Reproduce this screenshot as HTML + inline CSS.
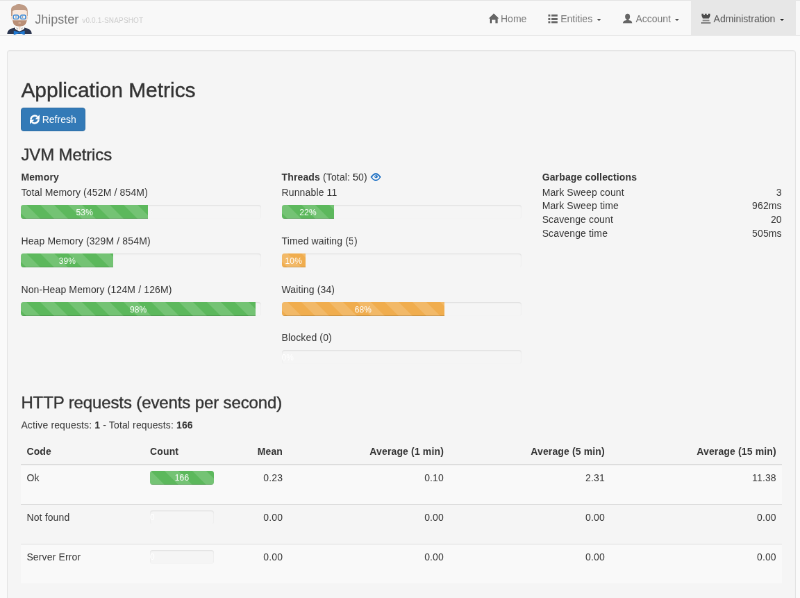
<!DOCTYPE html>
<html><head><meta charset="utf-8"><title>Metrics</title>
<style>
*{box-sizing:border-box}
html,body{margin:0;padding:0;background:#fafafa;overflow:hidden}
body{position:relative;width:800px;height:598px}
#root{transform:scale(0.694444);transform-origin:0 0;will-change:transform;width:1152px;height:862px;position:absolute;left:0;top:0;overflow:hidden;font-family:"Liberation Sans",Helvetica,Arial,sans-serif;font-size:14px;line-height:1.42857143;color:#333;background:#fafafa}
.gi{display:inline-block;width:14px;height:14px;vertical-align:-1px;fill:currentColor}
.well{position:absolute;left:10.4px;top:72px;width:1135.4px;min-height:900px;padding:19px;background:#f5f5f5;border:1px solid #e3e3e3;border-radius:4px;box-shadow:inset 0 1px 1px rgba(0,0,0,.05)}
h2{-webkit-text-stroke:0.45px #333;font-size:30px;font-weight:500;line-height:1.1;margin:20px 0 10px;position:relative;top:0.6px;letter-spacing:-0.03px}
h3{-webkit-text-stroke:0.4px #333;font-size:24px;font-weight:500;line-height:1.1;margin:20px 0 10px;position:relative;top:1.3px;letter-spacing:-0.12px}
p{margin:0 0 10px}
.c4>p{position:relative;top:1.3px}
.c4>.row{position:relative;top:2.3px;line-height:19.7px}
.well{letter-spacing:0.14px}
.btn{font-family:inherit;display:inline-block;padding:6px 12px;font-size:14px;line-height:1.42857143;border:1px solid #2e6da4;border-radius:4px;background:#337ab7;color:#fff;vertical-align:middle;white-space:nowrap}
.row{margin:0 -15px;display:flex}
.row:after{content:"";display:table;clear:both}
.c4{width:33.33333333%;padding:0 15px}
.c9{width:75%;padding:0 15px}
.c3{width:25%;padding:0 15px;text-align:right}
.progress{height:20px;margin-bottom:20px;overflow:hidden;background:#f5f5f5;border-radius:4px;box-shadow:inset 0 1px 2px rgba(0,0,0,.1)}
.bar{float:left;height:100%;font-size:12px;line-height:20px;color:#fff;text-align:center;background-color:#5cb85c;box-shadow:inset 0 -1px 0 rgba(0,0,0,.15);background-image:linear-gradient(45deg,rgba(255,255,255,.15) 25%,transparent 25%,transparent 50%,rgba(255,255,255,.15) 50%,rgba(255,255,255,.15) 75%,transparent 75%,transparent);background-size:40px 40px;background-position:-11.5px 0;white-space:nowrap}
.bar.w{background-color:#f0ad4e}
table{width:100%;max-width:100%;border-collapse:collapse;border-spacing:0;margin-bottom:20px}
th,td{padding:8px;line-height:1.42857143;vertical-align:top;border-top:1px solid #ddd;text-align:left}
thead th{vertical-align:bottom;border-bottom:2px solid #ddd;border-top:0}
tbody tr:nth-child(odd){background:#f9f9f9}
.r{text-align:right}
td .progress{margin-bottom:20px}
td .bar{background-position:-18.7px 0}
.bar span{position:relative;top:0.7px}
#nav{position:absolute;left:0;top:0;width:800px;height:36px;background:#f8f8f8;box-shadow:inset 0 1px 0 #e7e7e7,inset 0 -1px 0 #e9e9e9;z-index:2;font-family:"Liberation Sans",Helvetica,Arial,sans-serif}
#nav .logo{position:absolute;left:4px;top:2px}
#nav .bt{position:absolute;top:12.6px;font-size:12.5px;line-height:14px;color:#777;white-space:nowrap}
#nav .bv{position:absolute;top:16.4px;font-size:6.944px;line-height:9px;color:#ccc;white-space:nowrap}
#nav .act{position:absolute;left:691.3px;top:0;width:104.6px;height:35px;background:#e7e7e7}
#nav .ni{position:absolute;fill:#666}
#nav .nt{position:absolute;top:12px;font-size:9.722px;line-height:13.9px;color:#777;white-space:nowrap}
#nav .nt.a{color:#555}
#nav .cr.a{border-top-color:#2a2a2a}
#nav .cr{position:absolute;top:18.6px;width:0;height:0;border-top:2.8px solid #555;border-left:2.5px solid transparent;border-right:2.5px solid transparent;margin-left:0.2px}
#navt{position:absolute;left:0;top:0;width:1152px;height:52px;transform:scale(0.694444);transform-origin:0 0;will-change:transform;z-index:1}
#navt span{position:absolute;white-space:nowrap}
#navt .bt{top:18.14px;font-size:18px;line-height:20.16px;color:#777}
#navt .bv{top:23.62px;font-size:10px;line-height:12.96px;color:#ccc;letter-spacing:0.17px}
#navt .nt{top:17.28px;font-size:14px;line-height:20px;color:#777}
#navt .nt.a{color:#555}
</style></head><body>
<div id="nav">
  <svg class="logo" width="32" height="34" viewBox="4 2 32 34">
    <path d="M7.2 33.9 C7.4 30.5 9.5 28.8 12.5 28.2 L15.2 27.6 L19.5 31 L24 27.6 L26.6 28.2 C29.6 28.8 31.6 30.5 31.8 33.9 Z" fill="#2d3750"/>
    <path d="M15 26.6 L24.2 26.6 L24.2 29 L19.5 31.6 L15 29 Z" fill="#f7f7f7"/>
    <path d="M16 27.2 L18.4 28.3 L17.2 30 Z M23.2 27.2 L20.8 28.3 L22 30 Z" fill="#c9c9c9"/>
    <path d="M18.4 26.6 L20.8 26.6 L19.6 30.2 Z" fill="#f3d9c8"/>
    <path d="M11 16.3 L11 10.5 C11 7 13 5.5 15.5 5.2 C17 4 19 3.9 20.5 4.2 C23.5 4.6 26 5.8 27.2 8.5 C28 10.5 27.9 13 27.7 16.3 L26.5 16.3 L26.5 11 C24 9.6 16 9.6 12.8 11 L12.6 16.3 Z" fill="#bf9b85"/>
    <path d="M12.8 11 C16 9.6 24 9.6 26.6 11 L26.8 20 L12.6 20 Z" fill="#fae8dc"/>
    <ellipse cx="11.9" cy="17.9" rx="1.1" ry="1.7" fill="#f6dccb"/>
    <ellipse cx="27.1" cy="17.9" rx="1.1" ry="1.7" fill="#f6dccb"/>
    <path d="M12.6 19.4 C13.2 20.4 14.6 20.5 16 20.2 L23.2 20.2 C24.6 20.5 26 20.4 26.7 19.4 C26.8 23.4 24.9 26.2 19.6 26.5 C14.3 26.2 12.5 23.4 12.6 19.4 Z" fill="#b98f77"/>
    <ellipse cx="19.7" cy="22.9" rx="1.5" ry="0.7" fill="#dcb7a2"/>
    <rect x="13.4" y="15.1" width="5" height="3.9" rx="1" fill="#f1f5f9" stroke="#4a8fd4" stroke-width="1.2"/>
    <rect x="20.7" y="15.1" width="5" height="3.9" rx="1" fill="#f1f5f9" stroke="#4a8fd4" stroke-width="1.2"/>
    <path d="M18.6 17 L20.5 17" stroke="#478dd3" stroke-width="1"/>
    <circle cx="16" cy="17.1" r="0.75" fill="#80828a"/>
    <circle cx="22.5" cy="17.1" r="0.75" fill="#80828a"/>
    <path d="M13.8 30.8 L19.3 32.3 L24.7 30.8 L24.7 34.9 L19.3 33.3 L13.8 34.9 Z" fill="#2079d2"/>
    <rect x="18.4" y="31.5" width="1.8" height="1.7" fill="#1865b3"/>
  </svg>
  
  <div class="act"></div>
  <div id="navt"><span class="bt" style="left:50.26px">Jhipster</span><span class="bv" style="left:118.22px">v0.0.1-SNAPSHOT</span><span class="nt" style="left:721.01px">Home</span><span class="nt" style="left:807.26px">Entities</span><span class="nt" style="left:915.41px">Account</span><span class="nt a" style="left:1027.58px">Administration</span></div>
  <svg class="ni" style="left:488px;top:13px" width="12" height="11" viewBox="488 13 12 11"><path d="M493.8 13.4 L499 18.5 L497.7 18.5 L497.7 23.2 L495.4 23.2 L495.4 19.8 L491.9 19.8 L491.9 23.2 L489.9 23.2 L489.9 18.5 L488.6 18.5 Z"/></svg>
  
  <svg class="ni" style="left:548px;top:14px" width="10" height="10" viewBox="548 14 10 10"><path d="M548.3 14.6h2v2h-2zM551.4 14.6h6.2v2h-6.2zM548.3 18h2v2h-2zM551.4 18h6.2v2h-6.2zM548.3 21.3h2v2h-2zM551.4 21.3h6.2v2h-6.2z"/></svg>
  <b class="cr" style="left:596.9px"></b>
  <svg class="ni" style="left:622px;top:13px" width="11" height="11" viewBox="622 13 11 11"><path d="M627.6 13.7 C629.1 13.7 630.1 14.9 630.1 16.6 C630.1 18.1 629.4 19.2 628.6 19.6 L628.6 20 C630.8 20.4 632.1 21.3 632.3 23.2 L622.9 23.2 C623.1 21.3 624.4 20.4 626.6 20 L626.6 19.6 C625.8 19.2 625.1 18.1 625.1 16.6 C625.1 14.9 626.1 13.7 627.6 13.7 Z"/></svg>
  <b class="cr" style="left:675px"></b>
  <svg class="ni" style="left:700px;top:13px" width="12" height="11" viewBox="700 13 12 11"><path fill="#4d4d4d" d="M701.6 13.8 h1.9 v1.3 h1.4 v-1.3 h1.8 v1.3 h1.4 v-1.3 h2.1 v2.3 l-1.3 2.4 h-6 l-1.3 -2.4 z"/><path fill="#8a8a8a" d="M702.6 19.7 h6.8 v1.5 h-6.8 z M701.1 22.1 h9.5 v1.7 h-9.5 z"/></svg>
  <b class="cr a" style="left:780.1px"></b>
</div>

<div id="root">
<div class="well">
  <h2>Application Metrics</h2>
  <p><button class="btn" type="button"><svg class="gi" style="width:14px;height:14px;vertical-align:-1.5px;margin-left:-0.6px" viewBox="0 0 14 14"><path d="M1.5 7.3 A5.5 5.5 0 0 1 10.9 3.2" fill="none" stroke="#fff" stroke-width="2.5"/><path d="M14 0.2 L14 6.6 L7.6 6.6 Z" fill="#fff"/><path d="M12.5 6.7 A5.5 5.5 0 0 1 3.1 10.8" fill="none" stroke="#fff" stroke-width="2.5"/><path d="M0 13.8 L0 7.4 L6.4 7.4 Z" fill="#fff"/></svg>&nbsp;<span>Refresh</span></button></p>

  <h3>JVM Metrics</h3>
  <div class="row">
    <div class="c4">
      <b>Memory</b>
      <p>Total Memory (452M / 854M)</p>
      <div class="progress"><div class="bar" style="width:52.93%"><span>53%</span></div></div>
      <p>Heap Memory (329M / 854M)</p>
      <div class="progress"><div class="bar" style="width:38.52%"><span>39%</span></div></div>
      <p>Non-Heap Memory (124M / 126M)</p>
      <div class="progress"><div class="bar" style="width:97.8%"><span>98%</span></div></div>
    </div>
    <div class="c4">
      <b>Threads</b> (Total: 50) 
      <p>Runnable 11</p>
      <div class="progress"><div class="bar" style="width:22%"><span>22%</span></div></div>
      <p>Timed waiting (5)</p>
      <div class="progress"><div class="bar w" style="width:10%"><span>10%</span></div></div>
      <p>Waiting (34)</p>
      <div class="progress" style="margin-bottom:19px"><div class="bar w" style="width:68%"><span>68%</span></div></div>
      <p>Blocked (0)</p>
      <div class="progress" style="margin-bottom:21px"><div class="bar" style="width:0%"><span>0%</span></div></div>
    </div>
    <div class="c4">
      <b>Garbage collections</b>
      <div class="row"><div class="c9">Mark Sweep count</div><div class="c3">3</div></div>
      <div class="row"><div class="c9">Mark Sweep time</div><div class="c3">962ms</div></div>
      <div class="row"><div class="c9">Scavenge count</div><div class="c3">20</div></div>
      <div class="row"><div class="c9">Scavenge time</div><div class="c3">505ms</div></div>
    </div>
  </div>

  <h3>HTTP requests (events per second)</h3>
  <p class="pa">Active requests: <b>1</b> - Total requests: <b>166</b></p>
  <table>
    <thead><tr><th>Code</th><th>Count</th><th class="r">Mean</th><th class="r">Average (1 min)</th><th class="r">Average (5 min)</th><th class="r">Average (15 min)</th></tr></thead>
    <tbody>
      <tr><td>Ok</td><td><div class="progress"><div class="bar" style="width:100%"><span>166</span></div></div></td><td class="r">0.23</td><td class="r">0.10</td><td class="r">2.31</td><td class="r">11.38</td></tr>
      <tr><td>Not found</td><td><div class="progress"><div class="bar" style="width:0%"><span>0</span></div></div></td><td class="r">0.00</td><td class="r">0.00</td><td class="r">0.00</td><td class="r">0.00</td></tr>
      <tr><td>Server Error</td><td><div class="progress"><div class="bar" style="width:0%"><span>0</span></div></div></td><td class="r">0.00</td><td class="r">0.00</td><td class="r">0.00</td><td class="r">0.00</td></tr>
    </tbody>
  </table>
</div>
</div>
<svg id="eye" width="14" height="12" viewBox="369 171 14 12" style="position:absolute;left:369px;top:171px;z-index:3"><path fill="#2f7bc8" fill-rule="evenodd" d="M370.5 177.1 C372.4 174.2 374 173.1 375.8 173.1 C377.6 173.1 379.2 174.2 381.1 177.1 C379.2 180 377.6 181.1 375.8 181.1 C374 181.1 372.4 180 370.5 177.1 Z M372.1 177.3 C373.4 175.4 374.6 174.5 375.8 174.5 C377 174.5 378.2 175.4 379.5 177.3 C378.2 179.1 377 179.8 375.8 179.8 C374.6 179.8 373.4 179.1 372.1 177.3 Z"/><circle cx="376.1" cy="176.6" r="1.7" fill="#2f7bc8"/><circle cx="375.5" cy="176.2" r="0.5" fill="#cfe0f2"/></svg>
</body></html>
